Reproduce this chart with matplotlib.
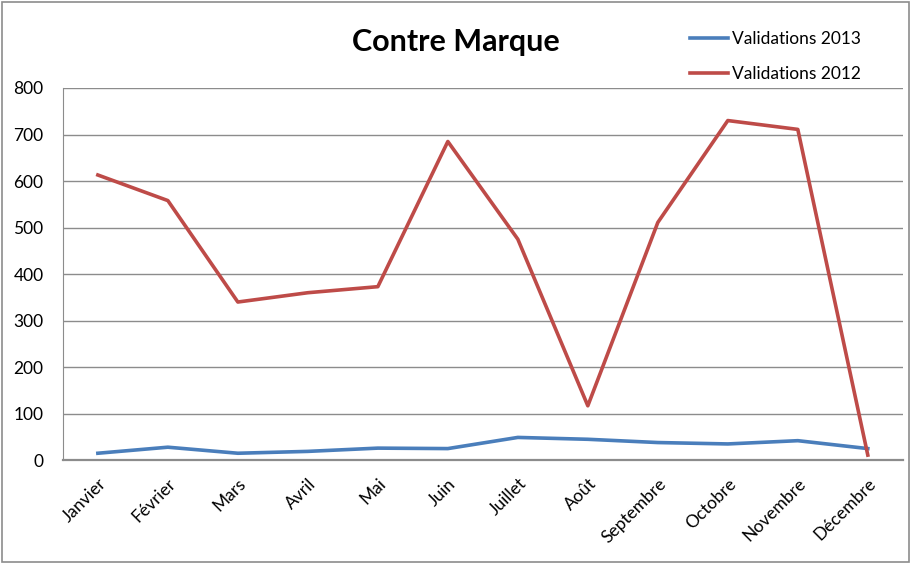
import matplotlib.pyplot as plt
from matplotlib.patches import Rectangle

mois = ["Janvier", "Février", "Mars", "Avril", "Mai", "Juin", "Juillet",
        "Août", "Septembre", "Octobre", "Novembre", "Décembre"]
validations_2013 = [15, 28, 15, 19, 26, 25, 49, 45, 38, 35, 42, 25]
validations_2012 = [613, 558, 340, 360, 373, 685, 475, 117, 511, 730, 711, 11]
y_ticks = [0, 100, 200, 300, 400, 500, 600, 700, 800]

plt.rcParams['font.family'] = ['Lato', 'DejaVu Sans']

fig = plt.figure(figsize=(9.11, 5.64), dpi=100)
ax = fig.add_axes([0.069, 0.184, 0.922, 0.66])

x = range(len(mois))
ax.plot(x, validations_2013, color='#4A7EBB', linewidth=2.6, label='Validations 2013')
ax.plot(x, validations_2012, color='#BE4B48', linewidth=2.6, label='Validations 2012')

ax.set_xlim(-0.5, len(mois) - 0.5)
ax.set_ylim(0, 800)
ax.set_yticks(y_ticks)
ax.set_xticks(list(x))
ax.set_xticklabels(mois, rotation=45, ha='right', rotation_mode='anchor', fontsize=12.5)
ax.tick_params(axis='y', labelsize=12.5, length=0, pad=14)
ax.tick_params(axis='x', length=0, pad=11)

ax.grid(axis='y', color='#8c8c8c', linewidth=1.0)
ax.set_axisbelow(True)
for s in ['top', 'right']:
    ax.spines[s].set_visible(False)
ax.spines['left'].set_color('#8c8c8c')
ax.spines['bottom'].set_color('#8c8c8c')
ax.spines['bottom'].set_linewidth(1.6)

fig.text(0.5, 0.925, "Contre Marque", ha='center', va='center', fontsize=22, fontweight='bold')

fig.legend(loc='upper left', bbox_to_anchor=(0.757, 0.945), frameon=False, fontsize=12.5,
           handlelength=2.2, handletextpad=0.25, labelspacing=1.1,
           borderpad=0, borderaxespad=0)

# outer chart border
fig.patches.append(Rectangle((0.002, 0.004), 0.996, 0.993, transform=fig.transFigure,
                             fill=False, edgecolor='#8c8c8c', linewidth=1.2))

fig.savefig('out.png', dpi=100)
